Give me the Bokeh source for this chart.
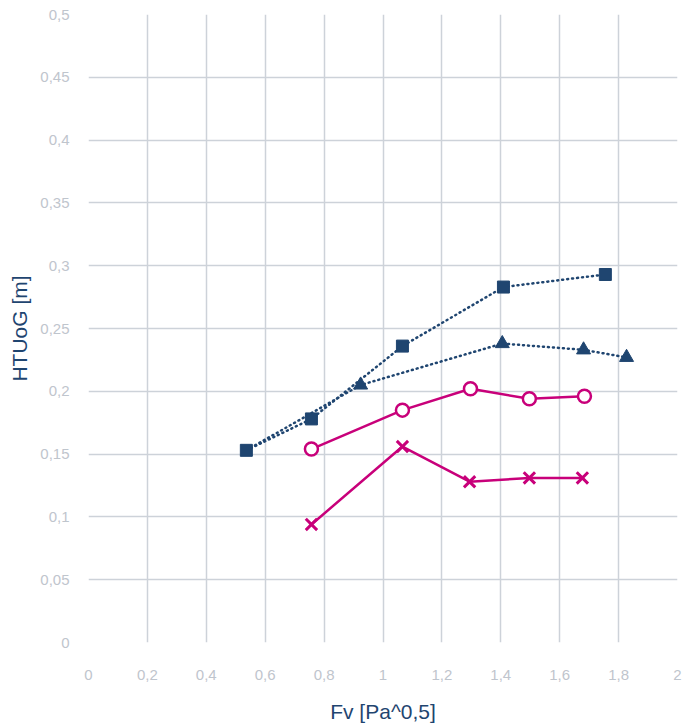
from bokeh.plotting import figure
from bokeh.models import FixedTicker, CustomJSTickFormatter, Range1d
from bokeh.embed import file_html
from bokeh.resources import INLINE

# Data
sq_x = [0.536, 0.757, 1.066, 1.409, 1.755]
sq_y = [0.153, 0.178, 0.236, 0.283, 0.293]
tri_x = [0.536, 0.924, 1.405, 1.681, 1.827]
tri_y = [0.153, 0.205, 0.238, 0.233, 0.227]
circ_x = [0.757, 1.066, 1.297, 1.497, 1.684]
circ_y = [0.154, 0.185, 0.202, 0.194, 0.196]
cross_x = [0.757, 1.066, 1.294, 1.497, 1.677]
cross_y = [0.094, 0.156, 0.128, 0.131, 0.131]
x_ticks = [0, 0.2, 0.4, 0.6, 0.8, 1, 1.2, 1.4, 1.6, 1.8, 2]
y_ticks = [0, 0.05, 0.1, 0.15, 0.2, 0.25, 0.3, 0.35, 0.4, 0.45, 0.5]

NAVY = "#1f4570"
MAG = "#c8007a"
GRID = "#cdd2d9"
TICK = "#bfc5cd"
FONT = "Liberation Sans"

p = figure(width=689, height=726, output_backend="svg", toolbar_location=None,
           x_range=Range1d(0, 2), y_range=Range1d(0, 0.5),
           min_border_left=88, min_border_right=12, min_border_top=14, min_border_bottom=84)
p.outline_line_color = None
p.background_fill_color = "white"

p.xaxis.ticker = FixedTicker(ticks=x_ticks)
p.yaxis.ticker = FixedTicker(ticks=y_ticks)
fmt = "return (Math.round(tick*100)/100).toString().replace('.', ',');"
p.xaxis.formatter = CustomJSTickFormatter(code=fmt)
p.yaxis.formatter = CustomJSTickFormatter(code=fmt)

for ax in (p.xaxis, p.yaxis):
    ax.axis_line_color = None
    ax.major_tick_line_color = None
    ax.minor_tick_line_color = None
    ax.major_label_text_color = TICK
    ax.major_label_text_font = FONT
    ax.major_label_text_font_size = "15px"
    ax.axis_label_text_color = NAVY
    ax.axis_label_text_font = FONT
    ax.axis_label_text_font_size = "21px"
    ax.axis_label_text_font_style = "normal"

p.xaxis.axis_label = "Fv [Pa^0,5]"
p.yaxis.axis_label = "HTUoG [m]"
p.xaxis.major_label_standoff = 21
p.yaxis.major_label_standoff = 13
p.xaxis.axis_label_standoff = 17
p.yaxis.axis_label_standoff = 6

p.xgrid.grid_line_color = GRID
p.ygrid.grid_line_color = GRID
p.xgrid.grid_line_width = 1.5
p.ygrid.grid_line_width = 1.5

# navy dotted series
p.line(tri_x, tri_y, line_color=NAVY, line_width=2.5, line_dash="1 4", line_cap="round")
p.line(sq_x, sq_y, line_color=NAVY, line_width=2.5, line_dash="1 4", line_cap="round")
p.scatter(tri_x[1:], tri_y[1:], marker="triangle", size=14, fill_color=NAVY, line_color=NAVY)
p.scatter(sq_x, sq_y, marker="square", size=12, fill_color=NAVY, line_color=NAVY)

# magenta solid series
p.line(circ_x, circ_y, line_color=MAG, line_width=2.5)
p.scatter(circ_x, circ_y, marker="circle", size=13, fill_color="white", line_color=MAG, line_width=2.5)
p.line(cross_x, cross_y, line_color=MAG, line_width=2.5)
p.scatter(cross_x, cross_y, marker="x", size=16, line_color=MAG, line_width=3)

open("out.html", "w").write(file_html(p, INLINE))
